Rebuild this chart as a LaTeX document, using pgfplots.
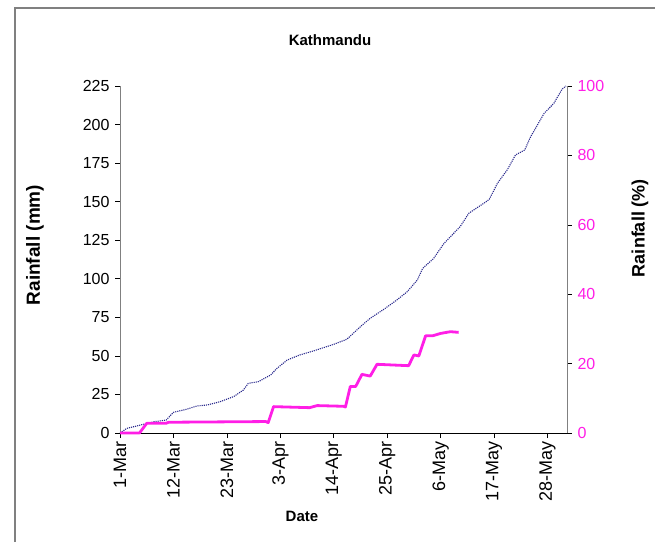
\documentclass[border=0pt]{standalone}
\usepackage{pgfplots}
\pgfplotsset{compat=1.18}
\usepackage{fontspec}
\setmainfont{Liberation Sans}
\definecolor{clim}{RGB}{40,40,140}
\definecolor{pct}{RGB}{255,30,230}
\definecolor{axgray}{RGB}{128,128,128}
\begin{document}
\begin{tikzpicture}
\useasboundingbox (0pt,0pt) rectangle (655pt,542pt);
% outer frame (top and left edges only)
\draw[axgray,line width=1.2pt] (15pt,0pt) -- (15pt,534pt) -- (655pt,534pt);
\node[font=\fontsize{15}{15}\selectfont\bfseries] at (330pt,502pt) {Kathmandu};
\node[font=\fontsize{19}{19}\selectfont\bfseries,rotate=90] at (35pt,297pt) {Rainfall (mm)};
\node[font=\fontsize{18}{18}\selectfont\bfseries,rotate=90] at (640pt,314pt) {Rainfall (\%)};
\node[font=\fontsize{15}{15}\selectfont\bfseries] at (302pt,26pt) {Date};

\begin{axis}[
  at={(120pt,109pt)}, anchor=south west,
  scale only axis, width=447pt, height=347pt,
  xmin=0, xmax=92, ymin=0, ymax=225,
  axis x line*=bottom, axis y line*=left,
  x axis line style={black,-}, y axis line style={axgray,-},
  xtick={0,11,...,88},
  xticklabels={1-Mar,12-Mar,23-Mar,3-Apr,14-Apr,25-Apr,6-May,17-May,28-May},
  ytick={0,25,...,225},
  tick align=outside, major tick length=5pt,
  tick style={black, line width=0.6pt},
  yticklabel style={font=\fontsize{16}{16}\selectfont, /pgf/number format/assume math mode=true, xshift=-2pt},
  xticklabel style={font=\fontsize{18}{18}\selectfont, rotate=90, anchor=east},
  clip=false,
]
\addplot[clim, densely dotted, line width=1.1pt] coordinates {
(0,0) (1.4,3) (4,5) (7,7.3) (9.5,8.4) (11,13.4) (13.7,15.4) (15.8,17.5)
(18,18.2) (20.6,20.3) (23.4,23.6) (25.4,27.9) (26.4,32.2) (28.5,33.3)
(31,37.6) (32.3,41.9) (34.4,47.3) (37,50.6) (40,53.4) (44,57.5)
(46.7,60.8) (49.5,69) (51.5,74.4) (54.3,80.2) (57,86.3) (59.1,91.6)
(61.2,99.2) (62.3,106.8) (64.5,113) (66.7,123) (70,133.8) (71.8,142.5)
(74.9,149) (76,151.5) (77.7,162) (79.7,170.6) (81.4,180.3) (83.3,183.5)
(84.5,192) (87.3,207.3) (89.3,213.8) (91,223) (91.8,225)
};
\end{axis}

\begin{axis}[
  at={(120pt,109pt)}, anchor=south west,
  scale only axis, width=447pt, height=347pt,
  xmin=0, xmax=92, ymin=0, ymax=100,
  axis y line*=right, axis x line=none,
  y axis line style={axgray,-},
  ytick={0,20,...,100},
  tick align=outside, major tick length=5pt,
  tick style={black, line width=0.6pt},
  yticklabel style={font=\fontsize{16}{16}\selectfont, text=pct, /pgf/number format/assume math mode=true, xshift=2pt},
  clip=false,
]
\addplot[pct, line width=2.8pt, line join=round] coordinates {
(0,0) (4,0) (5.5,2.8) (9.5,2.8) (10,3.1) (30,3.3) (30.5,3.0) (31.6,7.6)
(39,7.3) (40.6,7.9) (46,7.7) (46.4,7.5) (47.4,13.4) (48.5,13.4)
(49.8,16.9) (51.5,16.4) (52.9,19.8) (59.4,19.4) (60.5,22.5) (61.5,22.2)
(62.9,28.0) (64.3,28.0) (66,28.7) (68,29.2) (69.7,29.0)
};
\end{axis}
\end{tikzpicture}
\end{document}
